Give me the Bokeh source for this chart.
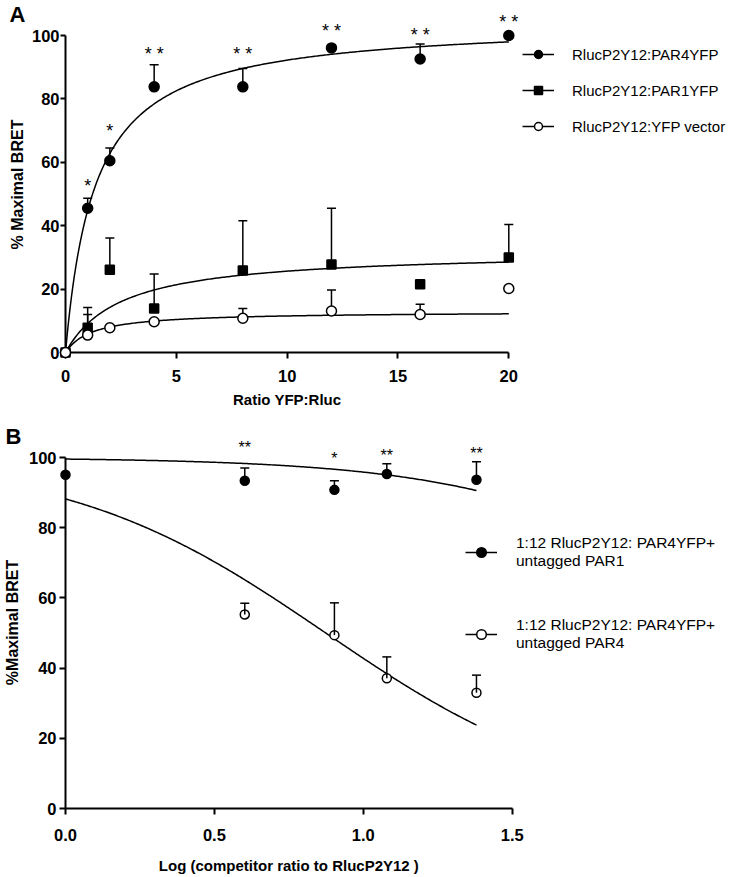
import numpy as np
from bokeh.plotting import figure
from bokeh.layouts import column
from bokeh.models import (ColumnDataSource, Whisker, TeeHead, Legend, LegendItem,
                          FixedTicker, Range1d, NumeralTickFormatter)
from bokeh.core.properties import value
from bokeh.embed import file_html
from bokeh.resources import INLINE

# ---------------- Panel A data ----------------
ratio_a = [0, 1, 2, 4, 8, 12, 16, 20]
par4_a = [0, 45.5, 60.5, 83.8, 83.8, 96.1, 92.6, 100.0]
par4_err_a = [0, 3.2, 4.0, 7.0, 5.8, 0, 4.7, 0]
par1_a = [0, 7.8, 26.1, 13.9, 25.9, 27.8, 21.5, 30.0]
par1_err_a = [0, 6.4, 10.0, 10.9, 15.7, 17.7, 0, 10.4]
yfp_a = [0, 5.5, 7.8, 9.7, 10.8, 13.1, 12.0, 20.2]
yfp_err_a = [0, 6.5, 0, 0, 3.1, 6.6, 3.2, 0]

# one-site saturation fits (Bmax, Kd)
par4_fit_a = (104.5, 1.33)
par1_fit_a = (32.1, 2.51)
yfp_fit_a = (12.94, 1.22)

stars_a_x = [1, 2, 4, 8, 12, 16, 20]
stars_a_y = [53.3, 70.4, 94.7, 94.7, 102.0, 100.9, 104.9]
stars_a_txt = ["*", "*", "* *", "* *", "* *", "* *", "* *"]

labels_a = ["RlucP2Y12:PAR4YFP", "RlucP2Y12:PAR1YFP", "RlucP2Y12:YFP vector"]
xticks_a = [0, 5, 10, 15, 20]
yticks = [0, 20, 40, 60, 80, 100]

# ---------------- Panel B data ----------------
logr_b = [0.0, 0.602, 0.903, 1.079, 1.380]
par1_b = [95.1, 93.4, 90.8, 95.3, 93.7]
par1_err_b = [0, 3.6, 2.6, 2.9, 5.1]
logr_b4 = [0.602, 0.903, 1.079, 1.380]
par4_b = [55.3, 49.4, 37.1, 33.0]
par4_err_b = [3.2, 9.2, 6.1, 5.0]

# one-site competition fits (top, bottom, logIC50)
par1_fit_b = (100.0, 0.0, 2.364)
par4_fit_b = (100.0, 0.0, 0.874)
fit_end_b = 1.38

stars_b_x = [0.602, 0.903, 1.079, 1.380]
stars_b_y = [104.6, 101.4, 102.4, 103.0]
stars_b_txt = ["**", "*", "**", "**"]

labels_b = ["1:12 RlucP2Y12: PAR4YFP+\nuntagged PAR1",
            "1:12 RlucP2Y12: PAR4YFP+\nuntagged PAR4"]
xticks_b = [0.0, 0.5, 1.0, 1.5]

FONT = "Liberation Sans"
YMAX = 106


def style(p, xticks, xbounds, ylab, ytick_out, ystandoff, ylabstand, xstandoff):
    p.outline_line_color = None
    p.grid.grid_line_color = None
    for ax in (p.xaxis, p.yaxis):
        ax.axis_line_width = 2
        ax.major_tick_line_width = 2
        ax.minor_tick_line_color = None
        ax.major_tick_in = 0
        ax.major_label_text_font = FONT
        ax.major_label_text_font_style = "bold"
        ax.major_label_text_font_size = "16.5px"
        ax.major_label_text_color = "black"
        ax.axis_label_text_font = FONT
        ax.axis_label_text_font_style = "bold"
        ax.axis_label_text_font_size = "16px"
        ax.axis_label_text_color = "black"
    p.xaxis.ticker = FixedTicker(ticks=xticks)
    p.yaxis.ticker = FixedTicker(ticks=yticks)
    p.xaxis.bounds = xbounds
    p.yaxis.bounds = (0, 100)
    p.yaxis.axis_label = ylab
    p.yaxis.major_tick_out = ytick_out
    p.xaxis.major_tick_out = 6
    p.yaxis.major_label_standoff = ystandoff
    p.yaxis.axis_label_standoff = ylabstand
    p.xaxis.major_label_standoff = xstandoff


def whiskers(p, xs, ys, errs, level):
    xw = [x for x, e in zip(xs, errs) if e > 0]
    lo = [y for y, e in zip(ys, errs) if e > 0]
    hi = [y + e for y, e in zip(ys, errs) if e > 0]
    src = ColumnDataSource(dict(x=xw, lo=lo, hi=hi))
    w = Whisker(source=src, base="x", lower="lo", upper="hi", dimension="height",
                line_width=1.5, line_color="black", lower_head=None,
                upper_head=TeeHead(size=9, line_width=1.5, line_color="black"))
    w.level = level
    p.add_layout(w)


def side_text(p, x, y, txt, size, xoff, yoff, align, baseline, style="bold", angle=0):
    r = p.text([x], [y], text=[txt], x_offset=xoff, y_offset=yoff, angle=angle,
               text_align=align, text_baseline=baseline, text_font=value(FONT),
               text_font_style=style, text_font_size=size, text_color="black")
    r.level = "overlay"
    return r


# ================= Figure A =================
FW_A = 666
PX_A = 443.3 / 20.0
pa = figure(frame_width=FW_A, frame_height=336, min_border_left=57, min_border_right=0,
            min_border_top=16, min_border_bottom=58,
            x_range=Range1d(0, FW_A / PX_A), y_range=Range1d(0, YMAX),
            output_backend="svg", toolbar_location=None)
style(pa, xticks_a, (xticks_a[0], xticks_a[-1]), "% Maximal BRET", 5, 1, 3, 11)

xs_fit_a = np.linspace(0, xticks_a[-1], 300)
series_a = [
    (par4_a, par4_err_a, par4_fit_a, "circle", "black"),
    (par1_a, par1_err_a, par1_fit_a, "square", "black"),
    (yfp_a, yfp_err_a, yfp_fit_a, "circle", "white"),
]
items_a = []
for (ys, errs, (bmax, kd), mk, fill), lab in zip(series_a, labels_a):
    whiskers(pa, ratio_a, ys, errs, "annotation")
    lr = pa.line(xs_fit_a, bmax * xs_fit_a / (kd + xs_fit_a), line_color="black", line_width=1.5)
    sr = pa.scatter(ratio_a, ys, marker=mk, size=10 if mk == "circle" else 9,
                    fill_color=fill, line_color="black", line_width=1.5)
    sr.level = "overlay"
    items_a.append(LegendItem(label=lab, renderers=[lr, sr]))

ta = pa.text(stars_a_x, stars_a_y, text=stars_a_txt, text_align="center", text_baseline="alphabetic",
             y_offset=2, text_font=value(FONT), text_font_size="18px", text_color="black")
ta.level = "overlay"

leg_a = Legend(items=items_a, location=(462, 216), glyph_width=32, glyph_height=20,
               label_height=20, spacing=16, label_standoff=18, padding=0, margin=0,
               border_line_color=None, background_fill_alpha=0,
               label_text_font=FONT, label_text_font_size="15px", label_text_color="black")
pa.add_layout(leg_a)

side_text(pa, (xticks_a[0] + xticks_a[-1]) / 2, 0, "Ratio YFP:Rluc", "15px", 0, 47, "center", "middle")
side_text(pa, 0, YMAX, "A", "22px", -56, -15, "left", "top")

# ================= Figure B =================
FW_B = 662
PX_B = 446.7 / 1.5
pb = figure(frame_width=FW_B, frame_height=372, min_border_left=61, min_border_right=0,
            min_border_top=26, min_border_bottom=69,
            x_range=Range1d(0, FW_B / PX_B), y_range=Range1d(0, YMAX),
            output_backend="svg", toolbar_location=None)
style(pb, xticks_b, (xticks_b[0], xticks_b[-1]), "%Maximal BRET", 6, 3, 5, 14)
pb.xaxis.formatter = NumeralTickFormatter(format="0.0")

xs_fit_b = np.linspace(0, fit_end_b, 300)
series_b = [
    (logr_b, par1_b, par1_err_b, par1_fit_b, "black"),
    (logr_b4, par4_b, par4_err_b, par4_fit_b, "white"),
]
items_b = []
for (xs, ys, errs, (top, bot, lic), fill), lab in zip(series_b, labels_b):
    lr = pb.line(xs_fit_b, bot + (top - bot) / (1 + 10 ** (xs_fit_b - lic)),
                 line_color="black", line_width=1.5)
    sr = pb.scatter(xs, ys, marker="circle", size=9, fill_color=fill, line_color="black", line_width=1.5)
    sr.level = "annotation"
    whiskers(pb, xs, ys, errs, "overlay")
    items_b.append(LegendItem(label=lab, renderers=[lr, sr]))

tb = pb.text(stars_b_x, stars_b_y, text=stars_b_txt, text_align="center", text_baseline="alphabetic",
             y_offset=6, text_font=value(FONT), text_font_size="16px", text_color="black")
tb.level = "overlay"

leg_b = Legend(items=items_b, location=(400, 156), glyph_width=32, glyph_height=24,
               label_height=20, spacing=46, label_standoff=19, padding=0, margin=0,
               border_line_color=None, background_fill_alpha=0,
               label_text_font=FONT, label_text_font_size="15.5px", label_text_color="black")
pb.add_layout(leg_b)

side_text(pb, (xticks_b[0] + xticks_b[-1]) / 2, 0, "Log (competitor ratio to RlucP2Y12 )", "15px",
          0, 57, "center", "middle")
side_text(pb, 0, YMAX, "B", "22px", -60, -13, "left", "top")

layout = column(pa, pb, spacing=0)
open("out.html", "w").write(file_html(layout, INLINE))
